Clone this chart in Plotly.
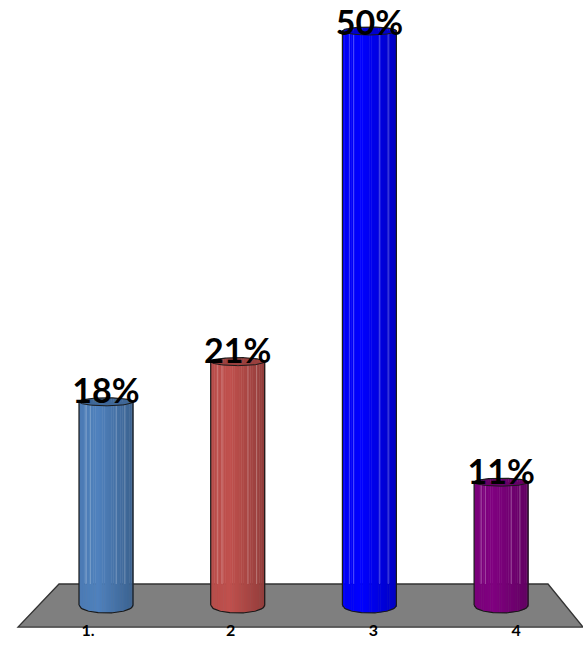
import plotly.graph_objects as go

# --- data ---
categories = ["1.", "2", "3", "4"]
values = [17.7, 21.2, 50.0, 10.7]
labels = ["18%", "21%", "50%", "11%"]
base_colors = [(79, 129, 189), (192, 80, 77), (0, 0, 255), (128, 0, 128)]

W, H = 583, 665
PX_PER_UNIT = 11.48      # pixels per percent
BASE_PX = 605            # pixel row of value 0
BAR0_PX, BAR_STEP = 106, 131.7
HALF = 27 / BAR_STEP
SAG = 8 / PX_PER_UNIT
CAP = 4 / PX_PER_UNIT
LABEL_LIFT = 7 / PX_PER_UNIT
FLOOR_BACK = (BASE_PX - 584) / PX_PER_UNIT

x_pos = list(range(len(categories)))


def shade(c, f):
    return "rgb(%d,%d,%d)" % tuple(min(255, round(v * f)) for v in c)


def shade_at(t):
    if t < 0.35:
        return 0.95 + 0.05 * t / 0.35
    return 1.0 - 0.24 * (t - 0.35) / 0.65


def sag_at(t):
    return SAG * max(0.0, 1 - (2 * t - 1) ** 2) ** 0.5


fig = go.Figure()

N = 30
for i in range(N):
    t = (i + 0.5) / N
    bot = sag_at(t)
    fig.add_bar(
        x=x_pos,
        y=[v + bot for v in values],
        base=[-bot] * len(values),
        width=2 * HALF / N * 1.25,
        offset=-HALF + 2 * HALF * i / N,
        marker=dict(color=[shade(c, shade_at(t)) for c in base_colors], line_width=0),
        hoverinfo="skip",
    )

# light vertical facet lines
for t in (0.12, 0.2, 0.68, 0.84):
    fig.add_bar(
        x=x_pos,
        y=[v - FLOOR_BACK for v in values],
        base=[FLOOR_BACK] * len(values),
        width=1.0 / BAR_STEP,
        offset=-HALF + 2 * HALF * t,
        marker=dict(color="rgba(255,255,255,0.28)", line_width=0),
        hoverinfo="skip",
    )

# top caps
for i in range(N):
    t = (i + 0.5) / N
    h = CAP * max(0.0, 1 - (2 * t - 1) ** 2) ** 0.5
    fig.add_bar(
        x=x_pos,
        y=[2 * h] * len(values),
        base=[v - h for v in values],
        width=2 * HALF / N * 1.25,
        offset=-HALF + 2 * HALF * i / N,
        marker=dict(color=[shade(c, 0.8) for c in base_colors], line_width=0),
        hoverinfo="skip",
    )

# outlines
M = 48
for xc, v in zip(x_pos, values):
    ts = [j / M for j in range(M + 1)]
    xs = [xc - HALF + 2 * HALF * t for t in ts]
    bottom = [-sag_at(t) for t in ts]
    top_low = [v - CAP * max(0.0, 1 - (2 * t - 1) ** 2) ** 0.5 for t in ts]
    top_up = [v + CAP * max(0.0, 1 - (2 * t - 1) ** 2) ** 0.5 for t in ts]
    fig.add_scatter(
        x=xs + xs[::-1] + xs[:1],
        y=bottom + top_up[::-1] + bottom[:1],
        mode="lines",
        line=dict(color="#1a1a1a", width=1.2),
        hoverinfo="skip",
    )
    fig.add_scatter(
        x=xs,
        y=top_low,
        mode="lines",
        line=dict(color="#1a1a1a", width=1.0),
        hoverinfo="skip",
    )

# data labels
fig.add_scatter(
    x=x_pos,
    y=[min(v + LABEL_LIFT, 50.4) for v in values],
    mode="text",
    text=labels,
    textposition="middle center",
    textfont=dict(family="Lato", size=34, color="black", weight="bold"),
    hoverinfo="skip",
)

# category labels sit on their own perspective-shifted axis
fig.add_scatter(
    x=categories, y=[None] * 4, xaxis="x2", mode="markers",
    marker_opacity=0, hoverinfo="skip",
)


def px(x):
    return x / W


def py(y):
    return 1 - y / H


floor = [(59, 584), (548, 584), (583, 627), (18, 627)]
path = "M " + " L ".join(f"{px(a):.4f},{py(b):.4f}" for a, b in floor) + " Z"

fig.update_layout(
    width=W,
    height=H,
    margin=dict(l=0, r=0, t=0, b=0),
    paper_bgcolor="white",
    plot_bgcolor="white",
    showlegend=False,
    barmode="overlay",
    xaxis=dict(
        range=[-BAR0_PX / BAR_STEP, (W - BAR0_PX) / BAR_STEP],
        visible=False, showgrid=False, zeroline=False, fixedrange=True,
    ),
    xaxis2=dict(
        type="category", categoryorder="array", categoryarray=categories,
        range=[-88 / 142.7, (W - 88) / 142.7],
        overlaying="x", anchor="free", position=py(619), side="bottom",
        showgrid=False, zeroline=False, showline=False, ticks="",
        tickfont=dict(family="Lato", size=16, color="black", weight="bold"),
        fixedrange=True,
    ),
    yaxis=dict(
        range=[(BASE_PX - H) / PX_PER_UNIT, BASE_PX / PX_PER_UNIT],
        visible=False, showgrid=False, zeroline=False, fixedrange=True,
    ),
    shapes=[dict(
        type="path", path=path, xref="paper", yref="paper", layer="below",
        fillcolor="#7f7f7f", line=dict(color="#333333", width=1.3),
    )],
)

fig.write_html("out.html", config={"displayModeBar": False},
               post_script="document.body.style.margin='0';")
